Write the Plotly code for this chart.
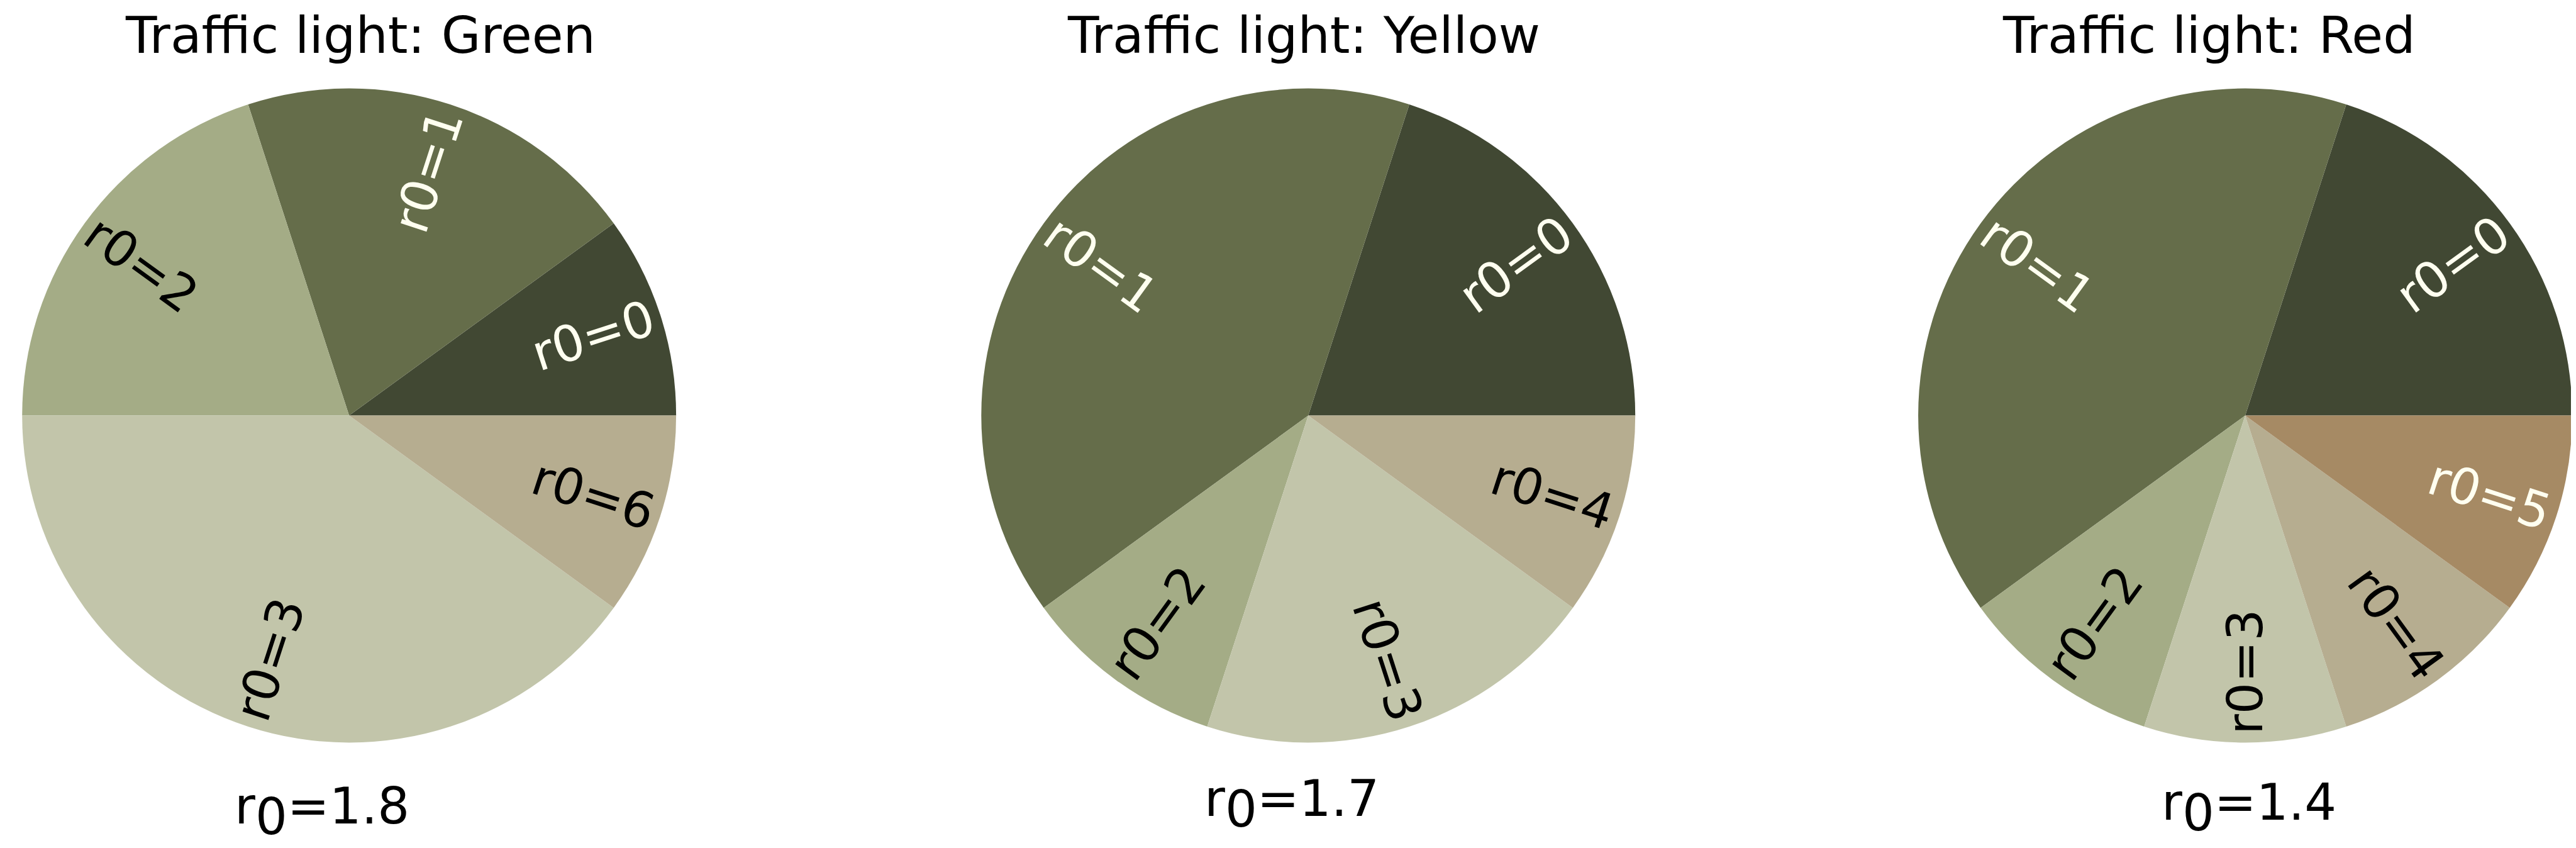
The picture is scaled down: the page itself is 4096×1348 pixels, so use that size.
import math
import plotly.graph_objects as go

# ---------------- data ----------------
TITLES = ["Traffic light: Green", "Traffic light: Yellow", "Traffic light: Red"]

GREEN_LABELS = ["r0=0", "r0=1", "r0=2", "r0=3", "r0=6"]
GREEN_SHARES = [0.1, 0.2, 0.2, 0.4, 0.1]

YELLOW_LABELS = ["r0=0", "r0=1", "r0=2", "r0=3", "r0=4"]
YELLOW_SHARES = [0.2, 0.4, 0.1, 0.2, 0.1]

RED_LABELS = ["r0=0", "r0=1", "r0=2", "r0=3", "r0=4", "r0=5"]
RED_SHARES = [0.2, 0.4, 0.1, 0.1, 0.1, 0.1]

R0_VALUES = [1.8, 1.7, 1.4]

# ---------------- style ----------------
PALETTE = ["#414833", "#656D4A", "#A4AC86", "#C2C5AA", "#B6AD90", "#A68A64"]
IVORY = "#FFFFF0"
TEXT_ON = {"#414833": IVORY, "#656D4A": IVORY, "#A4AC86": "black",
           "#C2C5AA": "black", "#B6AD90": "black", "#A68A64": IVORY}

W, H = 4096, 1348
SCALE = 0.579
FONT = "DejaVu Sans"
TITLE_SIZE = 81
LABEL_SIZE = 79
R0_SIZE = 80
LABEL_R = 0.785         # label centre, fraction of radius
SUB_SHIFT = 17          # px the subscript 0 is lowered

# layout (reference pixels scaled to the window)
PIE_CX = [945 * SCALE, 3579 * SCALE, 6152 * SCALE]
PIE_CY = 1127 * SCALE
RADIUS = 898 * SCALE
TITLE_X = [975 * SCALE, 3566 * SCALE, 6052 * SCALE]
TITLE_BASE = 76
R0_X = [870 * SCALE, 3534 * SCALE, 6162 * SCALE]
R0_BASE = [1310, 1298, 1304]

PIES = [(GREEN_LABELS, GREEN_SHARES), (YELLOW_LABELS, YELLOW_SHARES), (RED_LABELS, RED_SHARES)]

fig = go.Figure()

for i, (labels, shares) in enumerate(PIES):
    cx = PIE_CX[i]
    colors = PALETTE[:len(labels)]
    total = sum(shares)
    rot = 90 - 360 * shares[0] / total
    fig.add_trace(go.Pie(
        labels=labels, values=shares, sort=False,
        direction="counterclockwise", rotation=rot,
        marker=dict(colors=colors, line=dict(width=0)),
        textinfo="none", hoverinfo="label+percent", showlegend=False,
        domain=dict(x=[(cx - RADIUS) / W, (cx + RADIUS) / W],
                    y=[1 - (PIE_CY + RADIUS) / H, 1 - (PIE_CY - RADIUS) / H]),
    ))

    # radial slice labels
    start = 0.0
    for lab, v, col in zip(labels, shares, colors):
        frac = v / total
        mid = (start + frac / 2) * 360
        start += frac
        th = math.radians(mid)
        xp = cx + LABEL_R * RADIUS * math.cos(th)
        yp = PIE_CY - LABEL_R * RADIUS * math.sin(th)
        right = math.cos(th) > 1e-9
        r_deg = mid if right else mid + 180
        ang = -r_deg
        while ang <= -180:
            ang += 360
        while ang > 180:
            ang -= 360
        fig.add_annotation(
            x=xp / W, y=1 - yp / H, xref="paper", yref="paper",
            text=lab, showarrow=False, textangle=ang,
            xanchor="center", yanchor="middle",
            font=dict(family=FONT, size=LABEL_SIZE, color=TEXT_ON[col]),
        )

    # title
    fig.add_annotation(
        x=TITLE_X[i] / W, y=1 - (TITLE_BASE - 0.346 * TITLE_SIZE) / H,
        xref="paper", yref="paper", text=TITLES[i], showarrow=False,
        xanchor="center", yanchor="middle",
        font=dict(family=FONT, size=TITLE_SIZE, color="black"),
    )

    # r0 value below
    fig.add_annotation(
        x=R0_X[i] / W, y=1 - (R0_BASE[i] - 0.346 * R0_SIZE) / H,
        xref="paper", yref="paper",
        text='r<span style="baseline-shift:-%dpx">0</span>=%s' % (SUB_SHIFT, R0_VALUES[i]),
        showarrow=False, xanchor="center", yanchor="middle",
        font=dict(family=FONT, size=R0_SIZE, color="black"),
    )

fig.update_layout(
    width=W, height=H, autosize=False,
    margin=dict(l=0, r=0, t=0, b=0, pad=0),
    paper_bgcolor="white", plot_bgcolor="white",
    font=dict(family=FONT),
)

fig.write_html("out.html")
